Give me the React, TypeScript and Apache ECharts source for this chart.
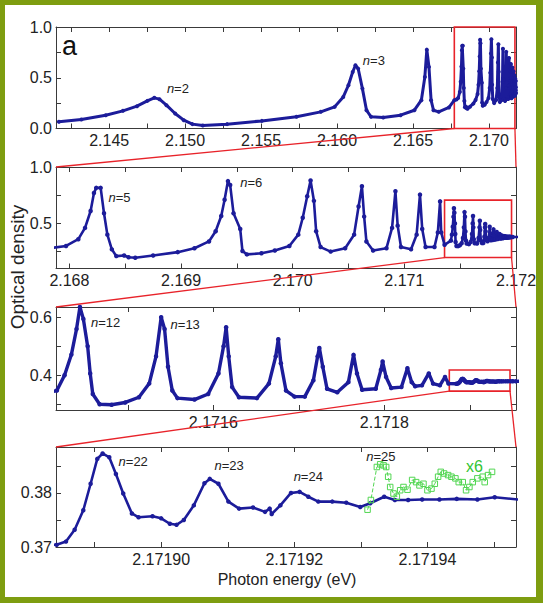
import { useEffect, useRef } from 'react';
import * as echarts from 'echarts';

const coarseEnergy = [2.14169, 2.14317, 2.14477, 2.14591, 2.14683, 2.14751, 2.14797, 2.14831, 2.14877, 2.14934, 2.14991, 2.15048, 2.15116, 2.15276, 2.15505, 2.15733, 2.15893, 2.15984, 2.16041, 2.16075, 2.16103, 2.16121, 2.16139, 2.16167, 2.16194, 2.16224, 2.16304, 2.16418, 2.16509, 2.16555, 2.16578, 2.16591, 2.16605, 2.16619, 2.16635, 2.16669, 2.16737, 2.16772];
const coarseOD = [0.066, 0.089, 0.131, 0.174, 0.22, 0.272, 0.302, 0.289, 0.23, 0.148, 0.082, 0.043, 0.03, 0.043, 0.075, 0.115, 0.164, 0.213, 0.311, 0.426, 0.557, 0.623, 0.59, 0.393, 0.18, 0.115, 0.108, 0.131, 0.18, 0.279, 0.508, 0.777, 0.607, 0.279, 0.18, 0.164, 0.207, 0.279];

const midEnergy = [2.16786, 2.16797, 2.16808, 2.16814, 2.16819, 2.16822, 2.16824, 2.16828, 2.16831, 2.16834, 2.16838, 2.16842, 2.16849, 2.16853, 2.16859, 2.16875, 2.16897, 2.16912, 2.16925, 2.16931, 2.16936, 2.16939, 2.16942, 2.16944, 2.16947, 2.16953, 2.16955, 2.16959, 2.16972, 2.16984, 2.16997, 2.17005, 2.17009, 2.17013, 2.17016, 2.17019, 2.17021, 2.17025, 2.17034, 2.17047, 2.17055, 2.17059, 2.17062, 2.17064, 2.17066, 2.17072, 2.17084, 2.17089, 2.17092, 2.17094, 2.17097, 2.17106, 2.17111, 2.17114, 2.17116, 2.17119, 2.17127, 2.1713, 2.17132, 2.17133, 2.17136];
const midOD = [0.285, 0.3, 0.36, 0.46, 0.61, 0.77, 0.815, 0.815, 0.59, 0.4, 0.27, 0.21, 0.215, 0.2, 0.195, 0.215, 0.245, 0.28, 0.34, 0.43, 0.565, 0.71, 0.875, 0.84, 0.59, 0.45, 0.255, 0.225, 0.235, 0.26, 0.3, 0.4, 0.55, 0.74, 0.88, 0.7, 0.43, 0.29, 0.25, 0.28, 0.4, 0.65, 0.83, 0.56, 0.34, 0.26, 0.28, 0.46, 0.785, 0.48, 0.29, 0.27, 0.4, 0.755, 0.45, 0.29, 0.29, 0.42, 0.695, 0.42, 0.31];

const fineEnergy = [2.171417, 2.171426, 2.171434, 2.17144, 2.171444, 2.171448, 2.171453, 2.171456, 2.171459, 2.171467, 2.171481, 2.171497, 2.171513, 2.171525, 2.171533, 2.171539, 2.171543, 2.171547, 2.171552, 2.171558, 2.171578, 2.171594, 2.171606, 2.171612, 2.171615, 2.171618, 2.171622, 2.17163, 2.171651, 2.171665, 2.171673, 2.171676, 2.171679, 2.171685, 2.171695, 2.171707, 2.171717, 2.171722, 2.171724, 2.171728, 2.171733, 2.171745, 2.171758, 2.171764, 2.171768, 2.171774, 2.17179, 2.171796, 2.171798, 2.171802, 2.171808, 2.17182, 2.171827, 2.171832, 2.171836, 2.171844, 2.171852, 2.171857, 2.171865, 2.171871, 2.171875];
const fineOD = [0.347, 0.4, 0.471, 0.559, 0.635, 0.594, 0.5, 0.406, 0.335, 0.3, 0.298, 0.306, 0.324, 0.371, 0.465, 0.6, 0.559, 0.429, 0.347, 0.321, 0.316, 0.335, 0.406, 0.5, 0.565, 0.465, 0.359, 0.324, 0.321, 0.371, 0.465, 0.524, 0.441, 0.347, 0.326, 0.326, 0.382, 0.465, 0.494, 0.429, 0.353, 0.341, 0.376, 0.47, 0.406, 0.35, 0.353, 0.418, 0.447, 0.394, 0.356, 0.359, 0.424, 0.376, 0.362, 0.365, 0.406, 0.371, 0.365, 0.394, 0.371];

const ultraEnergy = [2.1718843, 2.1718857, 2.171887, 2.1718883, 2.1718894, 2.1718904, 2.1718912, 2.1718922, 2.1718932, 2.1718943, 2.1718956, 2.1718966, 2.1718987, 2.1719, 2.1719013, 2.1719023, 2.1719034, 2.1719049, 2.1719065, 2.1719073, 2.1719086, 2.1719101, 2.1719117, 2.1719138, 2.1719156, 2.1719163, 2.1719166, 2.1719179, 2.1719195, 2.1719208, 2.1719221, 2.1719236, 2.1719257, 2.1719278, 2.1719299, 2.1719314, 2.1719335, 2.1719351, 2.1719371, 2.1719392, 2.1719418, 2.1719444, 2.1719475, 2.1719501, 2.1719536, 2.17197, 2.17202];
const ultraOD = [0.3704, 0.371, 0.3732, 0.3768, 0.3817, 0.3863, 0.3873, 0.3866, 0.3835, 0.3799, 0.3762, 0.3755, 0.3757, 0.3753, 0.3743, 0.3741, 0.375, 0.3777, 0.3818, 0.3826, 0.3817, 0.3784, 0.3771, 0.3773, 0.3765, 0.3771, 0.3761, 0.3777, 0.38, 0.3802, 0.3793, 0.3784, 0.3784, 0.3782, 0.3774, 0.3781, 0.3793, 0.3787, 0.3787, 0.3788, 0.3788, 0.3789, 0.3788, 0.3792, 0.3788, 0.379, 0.38];

// ---------- magnified (x6) trace, panel 4 ----------
const x6Energy = [2.171931, 2.1719315, 2.1719324, 2.1719329, 2.1719334, 2.1719338, 2.1719341, 2.1719344, 2.1719349, 2.1719354, 2.1719359, 2.1719364, 2.171937, 2.1719377, 2.1719383, 2.1719388, 2.1719394, 2.17194, 2.1719406, 2.1719411, 2.1719416, 2.171942, 2.1719425, 2.1719431, 2.1719436, 2.1719442, 2.1719447, 2.1719453, 2.1719458, 2.1719463, 2.1719468, 2.1719475, 2.1719483, 2.1719486, 2.1719491, 2.1719497];
const x6OD = [0.3769, 0.3787, 0.3848, 0.3853, 0.3851, 0.3848, 0.383, 0.3811, 0.3799, 0.3793, 0.3805, 0.3811, 0.3806, 0.3824, 0.382, 0.3814, 0.3817, 0.3805, 0.3808, 0.3817, 0.383, 0.3839, 0.3836, 0.3833, 0.383, 0.3827, 0.382, 0.382, 0.3805, 0.3811, 0.382, 0.3827, 0.383, 0.382, 0.3833, 0.3839];

// ---------- ticks / tick labels ----------
const p1XTicks = [2.1425, 2.145, 2.1475, 2.15, 2.1525, 2.155, 2.1575, 2.16, 2.1625, 2.165, 2.1675, 2.17];
const p1XLabels = [2.145, 2.15, 2.155, 2.16, 2.165, 2.17];
const p1YTicks = [0, 0.25, 0.5, 0.75, 1.0];
const p1YLabels = [0, 0.5, 1.0];
const p2XTicks = [2.168, 2.1685, 2.169, 2.1695, 2.17, 2.1705, 2.171, 2.1715, 2.172];
const p2XLabels = [2.168, 2.169, 2.17, 2.171, 2.172];
const p2YTicks = [0.25, 0.5, 0.75, 1.0];
const p2YLabels = [0.5, 1.0];
const p3XTicks = [2.1715, 2.1716, 2.1717, 2.1718, 2.1719];
const p3XLabels = [2.1716, 2.1718];
const p3YTicks = [0.3, 0.4, 0.5, 0.6];
const p3YLabels = [0.4, 0.6];
const p4XTicks = [2.17189, 2.1719, 2.17191, 2.17192, 2.17193, 2.17194, 2.17195];
const p4XLabels = [2.1719, 2.17192, 2.17194];
const p4YTicks = [0.37, 0.375, 0.38, 0.385];
const p4YLabels = [0.37, 0.38];

const FONT = '"Liberation Sans", Arial, Helvetica, sans-serif';
const BLUE = '#1c1c9a';
const GREEN = '#52d652';
const RED = '#e8232a';
const AXIS = '#3a3a3a';
const TXT = '#222222';
const FRAME = '#7e9d10';

const zip = (e: number[], v: number[]) => e.map((x, i) => [x, v[i]]);
const spectrum = [
  ...zip(coarseEnergy, coarseOD),
  ...zip(midEnergy, midOD),
  ...zip(fineEnergy, fineOD),
  ...zip(ultraEnergy, ultraOD),
].sort((a, b) => a[0] - b[0]);

function windowed(pts: number[][], min: number, max: number) {
  let i0 = pts.findIndex((p) => p[0] >= min);
  if (i0 < 0) i0 = pts.length - 1;
  i0 = Math.max(0, i0 - 1);
  let i1 = pts.length - 1;
  while (i1 > 0 && pts[i1][0] > max) i1--;
  i1 = Math.min(pts.length - 1, i1 + 1);
  return pts.slice(i0, i1 + 1);
}

export default function App() {
  const ref = useRef<HTMLDivElement>(null);

  useEffect(() => {
    const chart = echarts.init(ref.current!, null, { renderer: 'svg' });

    const panels = [
      { top: 27, height: 101.5, xMin: 2.1415, xMax: 2.17178, yMin: 0, yMax: 1.0, xT: p1XTicks, xL: p1XLabels, xD: 3, yT: p1YTicks, yL: p1YLabels, yD: 1, lw: 3, sym: 4,
        box: [2.16772, 0, 2.17171, 1.0] },
      { top: 167, height: 101.5, xMin: 2.16788, xMax: 2.172, yMin: 0.1, yMax: 1.0, xT: p2XTicks, xL: p2XLabels, xD: 3, yT: p2YTicks, yL: p2YLabels, yD: 1, lw: 2.6, sym: 4.5,
        box: [2.17136, 0.197, 2.17196, 0.706] },
      { top: 307, height: 103, xMin: 2.171416, xMax: 2.171954, yMin: 0.28, yMax: 0.635, xT: p3XTicks, xL: p3XLabels, xD: 4, yT: p3YTicks, yL: p3YLabels, yD: 1, lw: 3.4, sym: 4.5,
        box: [2.171876, 0.345, 2.171947, 0.418] },
      { top: 447, height: 100, xMin: 2.1718842, xMax: 2.1719533, yMin: 0.37, yMax: 0.3885, xT: p4XTicks, xL: p4XLabels, xD: 5, yT: p4YTicks, yL: p4YLabels, yD: 2, lw: 2.6, sym: 4.5,
        box: null as null | number[] },
    ];

    const grids: any[] = [];
    const xAxes: any[] = [];
    const yAxes: any[] = [];
    const series: any[] = [];
    const line = { show: true, onZero: false, lineStyle: { color: AXIS, width: 1 } };
    const tickStyle = { show: true, inside: true, length: 5, lineStyle: { color: AXIS, width: 1 } };
    const lab = { color: TXT, fontSize: 16, fontFamily: FONT };

    panels.forEach((p, g) => {
      grids.push({ left: 56, width: 460, top: p.top, height: p.height, containLabel: false, outerBoundsMode: 'none', show: false });
      xAxes.push({ type: 'value', gridIndex: g, position: 'bottom', min: p.xMin, max: p.xMax, axisLine: line, splitLine: { show: false },
        axisTick: { ...tickStyle, customValues: p.xT },
        axisLabel: { ...lab, margin: 4, customValues: p.xL, formatter: (v: number) => v.toFixed(p.xD) } });
      xAxes.push({ type: 'value', gridIndex: g, position: 'top', min: p.xMin, max: p.xMax, axisLine: line, splitLine: { show: false },
        axisTick: { ...tickStyle, customValues: p.xT }, axisLabel: { show: false } });
      yAxes.push({ type: 'value', gridIndex: g, position: 'left', min: p.yMin, max: p.yMax, axisLine: line, splitLine: { show: false },
        axisTick: { ...tickStyle, customValues: p.yT },
        axisLabel: { ...lab, margin: 4, customValues: p.yL, formatter: (v: number) => v.toFixed(p.yD) } });
      yAxes.push({ type: 'value', gridIndex: g, position: 'right', min: p.yMin, max: p.yMax, axisLine: line, splitLine: { show: false },
        axisTick: { ...tickStyle, customValues: p.yT }, axisLabel: { show: false } });

      const s: any = {
        type: 'line', xAxisIndex: 2 * g, yAxisIndex: 2 * g,
        data: windowed(spectrum, p.xMin, p.xMax),
        showSymbol: true, symbol: 'circle', symbolSize: p.sym,
        lineStyle: { color: BLUE, width: p.lw, join: 'round', cap: 'round' }, itemStyle: { color: BLUE },
        silent: true, emphasis: { disabled: true }, clip: true, z: 3,
      };
      if (p.box) {
        s.markArea = {
          silent: true, label: { show: false },
          itemStyle: { color: 'rgba(0,0,0,0)', borderColor: RED, borderWidth: 1.6 },
          data: [[{ coord: [p.box[0], p.box[1]] }, { coord: [p.box[2], p.box[3]] }]],
        };
      }
      series.push(s);
    });

    series.push({
      type: 'line', xAxisIndex: 6, yAxisIndex: 6, data: zip(x6Energy, x6OD),
      showSymbol: true, symbol: 'rect', symbolSize: 5.5,
      lineStyle: { color: GREEN, width: 1, type: 'dashed' },
      itemStyle: { color: 'rgba(255,255,255,0)', borderColor: GREEN, borderWidth: 1 },
      silent: true, emphasis: { disabled: true }, z: 4,
    });

    chart.setOption({
      animation: false,
      backgroundColor: '#ffffff',
      grid: grids, xAxis: xAxes, yAxis: yAxes, series,
    });

    const px = (g: number, x: number, y: number) =>
      chart.convertToPixel({ xAxisIndex: 2 * g, yAxisIndex: 2 * g } as any, [x, y]) as number[];

    const graphics: any[] = [];
    // zoom connector lines
    for (let g = 0; g < 3; g++) {
      const b = panels[g].box!;
      const n = panels[g + 1];
      const bl = px(g, b[0], b[1]);
      const br = px(g, b[2], b[1]);
      const tl = px(g + 1, n.xMin, n.yMax);
      const tr = px(g + 1, n.xMax, n.yMax);
      graphics.push({ type: 'line', shape: { x1: bl[0], y1: bl[1], x2: tl[0], y2: tl[1] }, style: { stroke: RED, lineWidth: 1.3 }, z: 10 });
      graphics.push({ type: 'line', shape: { x1: br[0], y1: br[1], x2: tr[0], y2: tr[1] }, style: { stroke: RED, lineWidth: 1.3 }, z: 10 });
    }

    const rich = { i: { fontStyle: 'italic', fontSize: 13, fontFamily: FONT, fill: TXT } };
    const peakLabels: [number, number, number, string][] = [
      [0, 2.1488, 0.39, '{i|n}=2'],
      [0, 2.1617, 0.67, '{i|n}=3'],
      [1, 2.16835, 0.73, '{i|n}=5'],
      [1, 2.16953, 0.86, '{i|n}=6'],
      [2, 2.171457, 0.581, '{i|n}=12'],
      [2, 2.17155, 0.576, '{i|n}=13'],
      [3, 2.1718936, 0.3858, '{i|n}=22'],
      [3, 2.171908, 0.385, '{i|n}=23'],
      [3, 2.1719199, 0.3831, '{i|n}=24'],
      [3, 2.1719308, 0.3868, '{i|n}=25'],
    ];
    peakLabels.forEach(([g, x, y, t]) => {
      const p = px(g, x, y);
      graphics.push({ type: 'text', x: p[0], y: p[1], z: 12,
        style: { text: t, rich, fontSize: 13, fontFamily: FONT, fill: TXT, align: 'left', verticalAlign: 'middle' } });
    });
    const x6p = px(3, 2.1719458, 0.3849);
    graphics.push({ type: 'text', x: x6p[0], y: x6p[1], z: 12,
      style: { text: 'x6', fontSize: 16, fontFamily: FONT, fill: '#33c533', align: 'left', verticalAlign: 'middle' } });

    graphics.push({ type: 'text', x: 62, y: 46, z: 12, style: { text: 'a', fontSize: 27, fontFamily: FONT, fill: '#111', align: 'left', verticalAlign: 'middle' } });
    graphics.push({ type: 'text', x: 17, y: 267, rotation: Math.PI / 2, z: 12,
      style: { text: 'Optical density', fontSize: 19, fontFamily: FONT, fill: TXT, align: 'center', verticalAlign: 'middle' } });
    graphics.push({ type: 'text', x: 287, y: 579, z: 12,
      style: { text: 'Photon energy (eV)', fontSize: 16, fontFamily: FONT, fill: TXT, align: 'center', verticalAlign: 'middle' } });

    // green frame
    graphics.push({ type: 'rect', shape: { x: 0, y: 0, width: 543, height: 5 }, style: { fill: FRAME }, z: 20 });
    graphics.push({ type: 'rect', shape: { x: 0, y: 0, width: 5, height: 603 }, style: { fill: FRAME }, z: 20 });
    graphics.push({ type: 'rect', shape: { x: 536, y: 0, width: 7, height: 603 }, style: { fill: FRAME }, z: 20 });
    graphics.push({ type: 'rect', shape: { x: 0, y: 597, width: 543, height: 6 }, style: { fill: FRAME }, z: 20 });

    chart.setOption({ graphic: graphics });

    return () => chart.dispose();
  }, []);

  return <div ref={ref} style={{ position: 'absolute', left: 0, top: 0, width: 543, height: 603 }} />;
}
